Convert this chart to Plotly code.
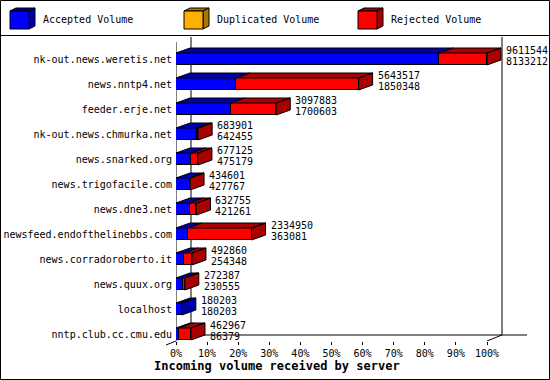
import plotly.graph_objects as go

# ---------------- data ----------------
categories = [
    "nk-out.news.weretis.net", "news.nntp4.net", "feeder.erje.net",
    "nk-out.news.chmurka.net", "news.snarked.org", "news.trigofacile.com",
    "news.dne3.net", "newsfeed.endofthelinebbs.com", "news.corradoroberto.it",
    "news.quux.org", "localhost", "nntp.club.cc.cmu.edu",
]
total_volume = [9611544, 5643517, 3097883, 683901, 677125, 434601,
                632755, 2334950, 492860, 272387, 180203, 462967]
accepted_volume = [8133212, 1850348, 1700603, 642455, 475179, 427767,
                   421261, 363081, 254348, 230555, 180203, 86379]
duplicated_volume = [0] * 12
rejected_volume = [t - a - d for t, a, d in zip(total_volume, accepted_volume, duplicated_volume)]
tick_values = [0, 10, 20, 30, 40, 50, 60, 70, 80, 90, 100]
tick_labels = ["0%", "10%", "20%", "30%", "40%", "50%", "60%", "70%", "80%", "90%", "100%"]
series_names = ["Accepted Volume", "Duplicated Volume", "Rejected Volume"]

# ---------------- style ----------------
FACE = ["#0000ff", "#ffaf00", "#ff0000"]
DARK = ["#0000aa", "#aa7500", "#aa0000"]
FONT = "DejaVu Sans Mono"

# plot-area pixel geometry
L, R, T, B = 176, 530, 36, 341
PX_PER_PCT = 3.11
PX_PER_CAT = 25.0
W, H = R - L, B - T
X_MAX = W / PX_PER_PCT
Y_TOP = (T - 59) / PX_PER_CAT
Y_BOT = (B - 59) / PX_PER_CAT

DXB = 14 / PX_PER_PCT      # bar depth (x)
DYB = 5 / PX_PER_CAT       # bar depth (y)
DXW = 15 / PX_PER_PCT      # wall depth
DYW = 6 / PX_PER_CAT
BAR_W = 12 / PX_PER_CAT

def px(x):
    return (x - L) / W

def py(y):
    return (B - y) / H

vmax = max(total_volume)
series = [accepted_volume, duplicated_volume, rejected_volume]
pct = [[v / vmax * 100 for v in s] for s in series]
ypos = list(range(len(categories)))

fig = go.Figure()

# front faces
for k in range(3):
    fig.add_trace(go.Bar(
        y=ypos, x=[v if v > 0 else None for v in pct[k]], orientation="h",
        width=BAR_W, marker=dict(color=FACE[k], line=dict(color="black", width=1)),
        hoverinfo="skip", showlegend=False,
    ))

# top and side faces
polys = {k: ([], []) for k in range(3)}
for i in ypos:
    yt = i - BAR_W / 2
    yb = i + BAR_W / 2
    start = 0.0
    last = None
    for k in range(3):
        w = pct[k][i]
        if w <= 0:
            continue
        a, b = start, start + w
        xs, ys = polys[k]
        xs += [a, b, b + DXB, a + DXB, a, None]
        ys += [yt, yt, yt - DYB, yt - DYB, yt, None]
        start = b
        last = k
    xs, ys = polys[last]
    xs += [start, start + DXB, start + DXB, start, start, None]
    ys += [yt, yt - DYB, yb - DYB, yb, yt, None]

for k in range(3):
    xs, ys = polys[k]
    if not xs:
        continue
    fig.add_trace(go.Scatter(
        x=xs, y=ys, mode="lines", fill="toself", fillcolor=DARK[k],
        line=dict(color="black", width=1), hoverinfo="skip", showlegend=False,
    ))

# value labels
annotations = []
for i in ypos:
    xe = total_volume[i] / vmax * 100 + DXB
    for txt, ysh in ((str(total_volume[i]), 9), (str(accepted_volume[i]), -2)):
        annotations.append(dict(
            x=xe, y=i, xref="x", yref="y", text=txt, showarrow=False,
            xanchor="left", yanchor="middle", xshift=3, yshift=ysh,
            font=dict(family=FONT, size=10, color="black"),
        ))

# axis title
annotations.append(dict(
    x=px(277), y=py(366), xref="paper", yref="paper",
    text="Incoming volume received by server", showarrow=False,
    xanchor="center", yanchor="middle",
    font=dict(family=FONT, size=12, color="black", weight="bold"),
))

shapes = []
line = dict(color="black", width=1)
# walls / floor (data coordinates)
yw_top = (37 - 59) / PX_PER_CAT
shapes += [
    dict(type="line", xref="x", yref="y", x0=DXW, x1=DXW, y0=yw_top, y1=Y_BOT - DYW, line=line, layer="below"),
    dict(type="line", xref="x", yref="y", x0=100 + DXW, x1=100 + DXW, y0=yw_top, y1=Y_BOT - DYW, line=line, layer="below"),
    dict(type="line", xref="x", yref="y", x0=DXW, x1=100 + DXW + 25 / PX_PER_PCT, y0=Y_BOT - DYW, y1=Y_BOT - DYW, line=line, layer="below"),
    dict(type="line", xref="x", yref="y", x0=100, x1=100 + DXW, y0=Y_BOT, y1=Y_BOT - DYW, line=line, layer="below"),
    dict(type="line", xref="x", yref="y", x0=0, x1=0, y0=(42 - 59) / PX_PER_CAT, y1=Y_BOT, line=line, layer="below"),
]
# frame and floor corner outside plot area (paper coordinates)
shapes += [
    dict(type="line", xref="paper", yref="paper", x0=px(166), y0=py(345), x1=px(176), y1=py(341), line=line),
    dict(type="rect", xref="paper", yref="paper", x0=px(0.5), y0=py(0.5), x1=px(549.5), y1=py(379.5), line=line),
    dict(type="line", xref="paper", yref="paper", x0=px(0), y0=py(35.5), x1=px(550), y1=py(35.5), line=line),
]

# legend cubes
leg_x = [10, 184, 358]
leg_tx = [41, 215, 389]
for k in range(3):
    x0, x1, y0, y1 = leg_x[k], leg_x[k] + 19, 11, 29
    d, e = 6, 3
    shapes.append(dict(type="path", xref="paper", yref="paper",
                       path=f"M{px(x0)},{py(y0)} L{px(x0 + d)},{py(y0 - e)} L{px(x1 + d)},{py(y0 - e)} L{px(x1)},{py(y0)} Z",
                       fillcolor=DARK[k], line=line))
    shapes.append(dict(type="path", xref="paper", yref="paper",
                       path=f"M{px(x1)},{py(y0)} L{px(x1 + d)},{py(y0 - e)} L{px(x1 + d)},{py(y1 - e)} L{px(x1)},{py(y1)} Z",
                       fillcolor=DARK[k], line=line))
    shapes.append(dict(type="rect", xref="paper", yref="paper",
                       x0=px(x0), x1=px(x1), y0=py(y1), y1=py(y0), fillcolor=FACE[k], line=line))
    annotations.append(dict(
        x=px(leg_tx[k]), y=py(20), xref="paper", yref="paper", text=series_names[k],
        showarrow=False, xanchor="left", yanchor="middle",
        font=dict(family=FONT, size=10, color="black"),
    ))

fig.update_layout(
    width=550, height=380, barmode="stack", bargap=0,
    margin=dict(l=L, r=550 - R, t=T, b=380 - B, pad=0, autoexpand=False),
    paper_bgcolor="white", plot_bgcolor="rgba(0,0,0,0)",
    showlegend=False, shapes=shapes, annotations=annotations,
    font=dict(family=FONT, size=10, color="black"),
    xaxis=dict(range=[0, X_MAX], tickvals=tick_values, ticktext=tick_labels,
               ticks="outside", ticklen=3, tickcolor="black", tickwidth=1,
               showgrid=False, zeroline=False, showline=False, automargin=False,
               tickfont=dict(family=FONT, size=10, color="black"), fixedrange=True),
    yaxis=dict(range=[Y_BOT, Y_TOP], tickvals=ypos, ticktext=categories,
               ticks="", showgrid=False, zeroline=False, showline=False, automargin=False,
               ticklabelstandoff=3,
               tickfont=dict(family=FONT, size=10, color="black"), fixedrange=True),
)

fig.write_html("out.html", config={"displayModeBar": False})
